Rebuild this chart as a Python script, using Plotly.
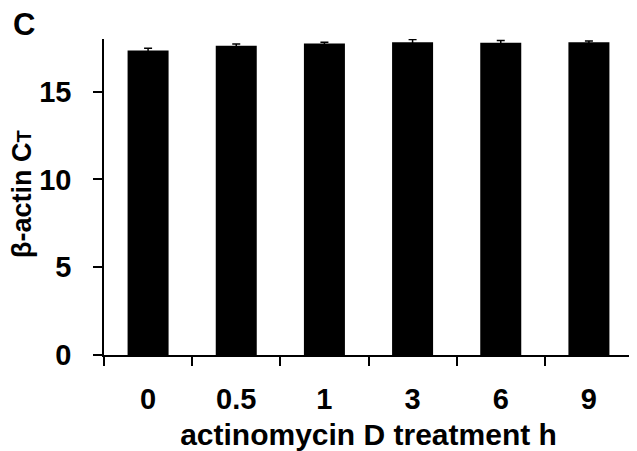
import plotly.graph_objects as go

categories = ["0", "0.5", "1", "3", "6", "9"]
ct_values = [17.35, 17.61, 17.74, 17.82, 17.78, 17.81]
ct_errors = [0.13, 0.10, 0.08, 0.15, 0.14, 0.08]
y_ticks = [0, 5, 10, 15]

FONT = "Liberation Sans, Arial, sans-serif"
# page offset of the default 8px body margin is compensated below
OFF = 8
W, H = 637 - OFF, 451 - OFF
L, R, T, B = 104 - OFF, 4, 39 - OFF, 96
PW, PH = W - L - R, H - T - B


def px_x(page_x):
    return (page_x - OFF - L) / PW


def px_y(page_y):
    return (H - B - (page_y - OFF)) / PH


fig = go.Figure(
    go.Bar(
        x=categories,
        y=ct_values,
        marker=dict(color="black", line=dict(width=0)),
        error_y=dict(type="data", array=ct_errors, visible=True,
                     color="black", thickness=1.5, width=4),
    )
)

fig.update_layout(
    width=W, height=H,
    margin=dict(l=L, r=R, t=T, b=B, autoexpand=False),
    paper_bgcolor="white", plot_bgcolor="white",
    bargap=0.535,
    showlegend=False,
    font=dict(family=FONT, color="black"),
    annotations=[
        dict(text="C", xref="paper", yref="paper",
             x=px_x(24), y=px_y(25),
             xanchor="center", yanchor="middle", showarrow=False,
             font=dict(size=31, family=FONT, color="black", weight="bold")),
        dict(text="β-actin C<span style='font-size:20px'>T</span>",
             xref="paper", yref="paper", x=px_x(22), y=px_y(194),
             xanchor="center", yanchor="middle", textangle=-90, showarrow=False,
             font=dict(size=27, family=FONT, color="black", weight="bold")),
    ],
)

fig.update_xaxes(
    type="category", automargin=False,
    showline=True, linecolor="black", linewidth=1.5,
    ticks="outside", tickson="boundaries", ticklen=9, tickwidth=1.5, tickcolor="black",
    tickfont=dict(size=29, family=FONT, color="black", weight="bold"),
    ticklabelstandoff=17,
    title=dict(text="actinomycin D treatment h",
               font=dict(size=30, family=FONT, color="black", weight="bold"), standoff=12),
    showgrid=False, zeroline=False,
)
fig.update_yaxes(
    range=[0, 18], tickvals=y_ticks, automargin=False,
    showline=True, linecolor="black", linewidth=1.5,
    ticks="outside", ticklen=9, tickwidth=1.5, tickcolor="black",
    tickfont=dict(size=29, family=FONT, color="black", weight="bold"),
    ticklabelstandoff=16,
    showgrid=False, zeroline=False,
)

fig.write_html("out.html")
